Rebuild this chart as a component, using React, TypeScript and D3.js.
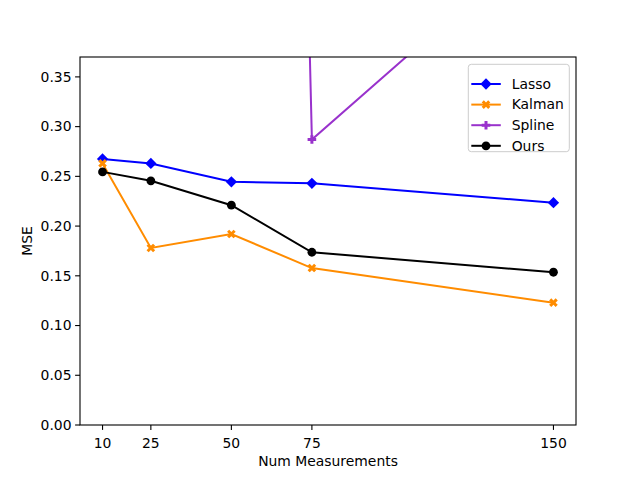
import * as d3 from "d3"

// measurement counts on the x axis
const measurements = [10, 25, 50, 75, 150]
const xTicks = [10, 25, 50, 75, 150]
const yTicks = [0, 0.05, 0.1, 0.15, 0.2, 0.25, 0.3, 0.35]

// MSE per method
const lasso = [0.2675, 0.263, 0.2445, 0.243, 0.2235]
const kalman = [0.263, 0.178, 0.192, 0.1578, 0.123]
const ours = [0.2545, 0.2455, 0.221, 0.1737, 0.1536]
// spline only has values from 50 on, and 50 is far off the plot
const splineX = [50, 75, 150]
const spline = [3.6, 0.287, 0.5]

const W = 640
const H = 478
const margin = { top: 57, right: 64, bottom: 53, left: 80 }
const font = "DejaVu Sans, sans-serif"

type Marker = "D" | "X" | "P" | "o"

interface Series {
  name: string
  color: string
  marker: Marker
  xs: number[]
  ys: number[]
}

const series: Series[] = [
  { name: "Lasso", color: "#0000ff", marker: "D", xs: measurements, ys: lasso },
  { name: "Kalman", color: "#ff8c00", marker: "X", xs: measurements, ys: kalman },
  { name: "Spline", color: "#9932cc", marker: "P", xs: splineX, ys: spline },
  { name: "Ours", color: "#000000", marker: "o", xs: measurements, ys: ours },
]

const plusPts = (s: number, w: number) =>
  [
    [-w, -s], [w, -s], [w, -w], [s, -w], [s, w], [w, w],
    [w, s], [-w, s], [-w, w], [-s, w], [-s, -w], [-w, -w],
  ]
    .map((p) => p.join(","))
    .join(" ")

const MarkerShape = ({ m, x, y, color }: { m: Marker; x: number; y: number; color: string }) => {
  if (m === "o") return <circle cx={x} cy={y} r={4.4} fill={color} />
  if (m === "D")
    return (
      <rect x={x - 4} y={y - 4} width={8} height={8} fill={color}
        transform={`rotate(45 ${x} ${y})`} />
    )
  if (m === "P")
    return <polygon points={plusPts(4.3, 1.5)} fill={color} transform={`translate(${x},${y})`} />
  return (
    <polygon points={plusPts(4.6, 1.5)} fill={color}
      transform={`translate(${x},${y}) rotate(45)`} />
  )
}

const App = () => {
  const width = W - margin.left - margin.right
  const height = H - margin.top - margin.bottom

  const x = d3.scaleLinear().domain([3, 157]).range([0, width])
  const y = d3.scaleLinear().domain([0, 0.37]).range([height, 0])

  const line = d3
    .line<[number, number]>()
    .x((d) => x(d[0]))
    .y((d) => y(d[1]))

  const legendRows = series.map((s, i) => ({ ...s, cy: 19.7 + i * 20.6 }))

  return (
    <svg width={W} height={H} style={{ position: "absolute", left: 0, top: 0 }}>
      <rect width={W} height={H} fill="#fff" />
      <defs>
        <clipPath id="plot">
          <rect width={width} height={height} />
        </clipPath>
      </defs>
      <g transform={`translate(${margin.left},${margin.top})`} fontFamily={font}>
        <g clipPath="url(#plot)">
          {series.map((s) => {
            const pts = s.xs.map((v, i) => [v, s.ys[i]] as [number, number])
            return (
              <g key={s.name}>
                <path d={line(pts) || ""} fill="none" stroke={s.color} strokeWidth={2} />
                {pts.map((p, i) => (
                  <MarkerShape key={i} m={s.marker} x={x(p[0])} y={y(p[1])} color={s.color} />
                ))}
              </g>
            )
          })}
        </g>

        {/* axes frame */}
        <rect width={width} height={height} fill="none" stroke="#000" strokeWidth={1.1} />

        {/* x ticks */}
        {xTicks.map((t) => (
          <g key={t} transform={`translate(${x(t)},${height})`}>
            <line y2={4.9} stroke="#000" strokeWidth={1.1} />
            <text y={19} textAnchor="middle" fontSize={13.9} dy="0.3em">{t}</text>
          </g>
        ))}

        {/* y ticks */}
        {yTicks.map((t) => (
          <g key={t} transform={`translate(0,${y(t)})`}>
            <line x2={-4.9} stroke="#000" strokeWidth={1.1} />
            <text x={-8.5} textAnchor="end" fontSize={13.9} dy="0.35em">{t.toFixed(2)}</text>
          </g>
        ))}

        <text x={width / 2} y={height + 41} textAnchor="middle" fontSize={13.9}>
          Num Measurements
        </text>
        <text transform={`translate(-48,${height / 2}) rotate(-90)`} textAnchor="middle"
          fontSize={13.9}>
          MSE
        </text>

        {/* legend */}
        <g transform={`translate(${468.3 - margin.left},${64.3 - margin.top})`}>
          <rect width={101} height={87.4} rx={3} fill="#fff" fillOpacity={0.8}
            stroke="#cccccc" strokeWidth={1} />
          {legendRows.map((s) => (
            <g key={s.name}>
              <line x1={3} x2={32.5} y1={s.cy - 7.4} y2={s.cy - 7.4} stroke={s.color}
                strokeWidth={2} transform="translate(0,7.4)" />
              <MarkerShape m={s.marker} x={17.7} y={s.cy} color={s.color} />
              <text x={43.4} y={s.cy} dy="0.35em" fontSize={13.9}>{s.name}</text>
            </g>
          ))}
        </g>
      </g>
    </svg>
  )
}

export default App
